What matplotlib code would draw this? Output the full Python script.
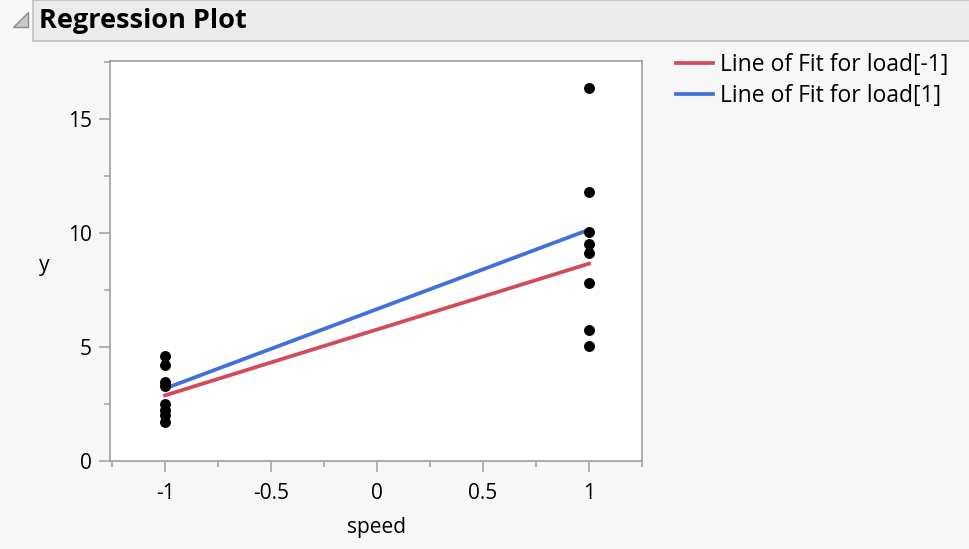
import matplotlib.pyplot as plt
from matplotlib.patches import Polygon, Rectangle

# points (speed, y)
speed = [-1, -1, -1, -1, -1, -1, -1, -1,
         1, 1, 1, 1, 1, 1, 1, 1]
y = [4.6, 4.2, 3.47, 3.3, 2.52, 2.24, 2.0, 1.7,
     16.36, 11.8, 10.04, 9.5, 9.14, 7.82, 5.75, 5.04]

# lines of fit, value at speed -1 and 1
fit_x = [-1, 1]
fit_load_m1 = [2.88, 8.66]
fit_load_1 = [3.18, 10.15]

plt.rcParams['font.family'] = ['Open Sans', 'DejaVu Sans']

fig = plt.figure(figsize=(9.69, 5.49), dpi=100, facecolor='#f7f7f7')

# header bar
fig.patches.append(Rectangle((33/969, 1-41/549), 1, 41/549, transform=fig.transFigure,
                             facecolor='#ebebeb', edgecolor='#c0c0c0', lw=1.2))
fig.patches.append(Polygon([(13/969, 1-27/549), (28/969, 1-27/549), (28/969, 1-12/549)],
                           closed=True, transform=fig.transFigure,
                           facecolor='#c8c8c8', edgecolor='#8a8a8a', lw=1))
fig.text(39/969, 1-21/549, 'Regression Plot', fontsize=19.5, fontweight='bold',
         va='center', ha='left')

ax = fig.add_axes([110/969, 1-461/549, 532/969, 400/549])
ax.set_facecolor('white')

ax.plot(fit_x, fit_load_m1, color='#d24b5a', lw=2.7, label='Line of Fit for load[-1]', zorder=2)
ax.plot(fit_x, fit_load_1, color='#4170dc', lw=2.7, label='Line of Fit for load[1]', zorder=2)
ax.scatter(speed, y, s=62, color='black', zorder=3, linewidths=0)

ax.set_xlim(-1.26, 1.25)
ax.set_ylim(0, 17.55)
ax.set_xticks([-1, -0.5, 0, 0.5, 1])
ax.set_xticklabels(['-1', '-0.5', '0', '0.5', '1'])
ax.set_xticks([-1.25, -0.75, -0.25, 0.25, 0.75, 1.25], minor=True)
ax.set_yticks([0, 5, 10, 15])
ax.set_yticks([2.5, 7.5, 12.5, 17.5], minor=True)

for s in ax.spines.values():
    s.set_color('#a6a6a6')
    s.set_linewidth(1.3)
ax.tick_params(which='major', length=8, width=1.2, color='#a6a6a6', labelsize=15, pad=5)
ax.tick_params(which='minor', length=4, width=1.2, color='#a6a6a6')
ax.tick_params(axis='x', pad=8)

ax.set_xlabel('speed', fontsize=15, labelpad=9)
ax.set_ylabel('y', fontsize=15, rotation=0, va='center', ha='center')
ax.yaxis.set_label_coords(-66/532, 0.49)

fig.legend(loc='upper left', bbox_to_anchor=(676/969, 1-53/549), frameon=False,
           fontsize=16.5, handlelength=1.6, handletextpad=0.3, labelspacing=0.3,
           borderaxespad=0, borderpad=0)

fig.savefig('out.png', dpi=100, facecolor=fig.get_facecolor())
